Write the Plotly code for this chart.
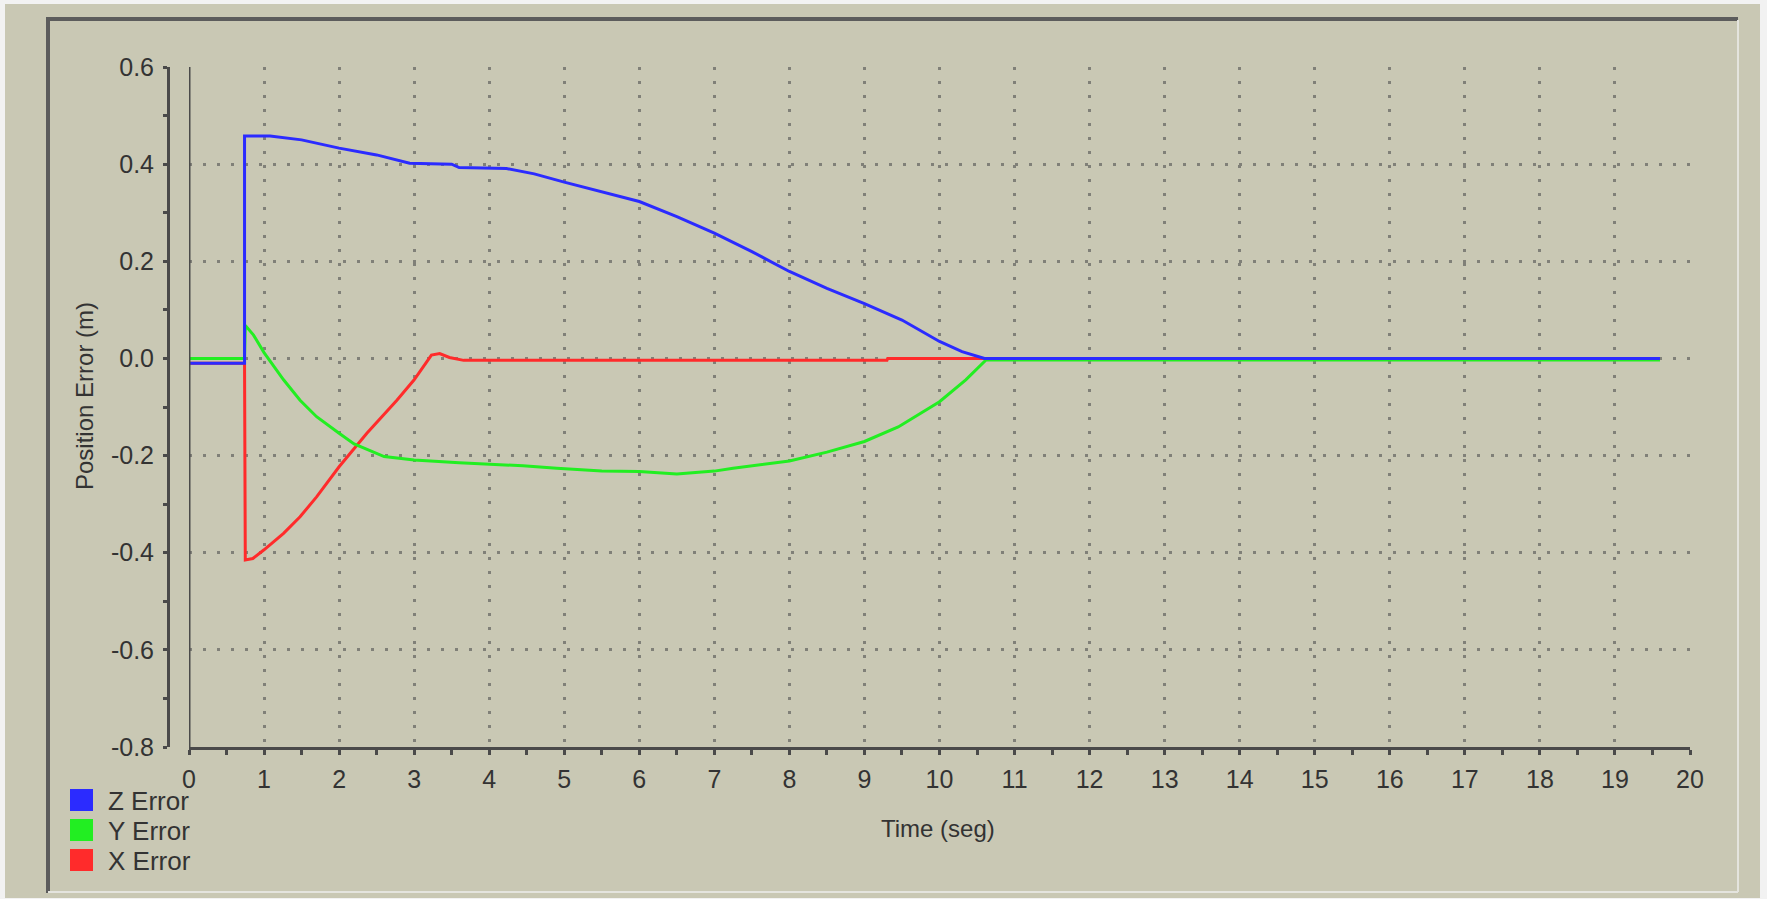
import plotly.graph_objects as go

W, H = 1767, 899

# ---------------- data ----------------
series_names = ["Z Error", "Y Error", "X Error"]
series_colors = ["#2b2bff", "#22ee22", "#ff2b2b"]

z_time = [0, 0.74, 0.74, 1.08, 1.5, 2.0, 2.5, 2.94, 3.5, 3.6, 4.23, 4.6, 5.0, 5.5,
          6.0, 6.5, 7.0, 7.5, 8.0, 8.5, 9.0, 9.5, 10.0, 10.3, 10.6, 19.6]
z_err = [-0.01, -0.01, 0.458, 0.458, 0.45, 0.433, 0.419, 0.402, 0.400, 0.393, 0.391,
         0.380, 0.363, 0.343, 0.323, 0.292, 0.258, 0.220, 0.179, 0.144, 0.113, 0.079,
         0.035, 0.014, 0.0, 0.0]

y_time = [0, 0.74, 0.75, 0.86, 1.0, 1.26, 1.48, 1.7, 2.0, 2.2, 2.6, 3.0, 3.6, 4.45,
          4.9, 5.5, 6.0, 6.5, 7.0, 7.25, 8.0, 8.5, 9.0, 9.45, 10.0, 10.35, 10.62, 19.6]
y_err = [0.0, 0.0, 0.068, 0.048, 0.012, -0.044, -0.086, -0.12, -0.154, -0.176, -0.202,
         -0.209, -0.215, -0.221, -0.226, -0.232, -0.233, -0.238, -0.232, -0.226, -0.211,
         -0.193, -0.171, -0.141, -0.089, -0.044, -0.003, -0.003]

x_time = [0, 0.74, 0.75, 0.85, 1.0, 1.26, 1.48, 1.7, 2.0, 2.37, 2.77, 3.0, 3.23, 3.34,
          3.47, 3.66, 9.3, 9.31, 10.6, 19.6]
x_err = [-0.01, -0.01, -0.415, -0.412, -0.394, -0.36, -0.326, -0.285, -0.223, -0.154,
         -0.086, -0.044, 0.007, 0.010, 0.002, -0.004, -0.004, 0.0, 0.0, 0.0]

x_ticks = list(range(0, 21))
y_tickvals = [0.6, 0.4, 0.2, 0.0, -0.2, -0.4, -0.6, -0.8]
y_ticktext = ["0.6", "0.4", "0.2", "0.0", "-0.2", "-0.4", "-0.6", "-0.8"]

x_title = "Time (seg)"
y_title = "Position Error (m)"

# ---------------- layout helpers ----------------
def fx(px):
    return px / W

def fy(py):
    return 1 - py / H

BG = "#c9c8b4"
AXIS = "#4a4a4a"
GRID = "#808078"
TXT = "#333333"
FONT = "Liberation Sans, Arial, sans-serif"

plot_l, plot_r, plot_t, plot_b = 189, 1690, 67, 747

fig = go.Figure()

# draw X first, then Y, then Z on top
data = {"Z Error": (z_time, z_err), "Y Error": (y_time, y_err), "X Error": (x_time, x_err)}
for name in reversed(series_names):
    t, v = data[name]
    col = series_colors[series_names.index(name)]
    fig.add_trace(go.Scatter(x=t, y=v, mode="lines", name=name,
                             line=dict(color=col, width=3), showlegend=False))

shapes = []
# outer beige panel on white
shapes.append(dict(type="rect", xref="paper", yref="paper", x0=fx(5), x1=fx(1760),
                   y0=fy(898), y1=fy(4), fillcolor=BG, line=dict(width=0), layer="below"))
# sunken frame
shapes.append(dict(type="line", xref="paper", yref="paper", x0=fx(48), x1=fx(1738),
                   y0=fy(19), y1=fy(19), line=dict(color="#5c5c5c", width=4)))
shapes.append(dict(type="line", xref="paper", yref="paper", x0=fx(48), x1=fx(48),
                   y0=fy(17), y1=fy(893), line=dict(color="#5c5c5c", width=4)))
shapes.append(dict(type="line", xref="paper", yref="paper", x0=fx(1738), x1=fx(1738),
                   y0=fy(20), y1=fy(892), line=dict(color="#e4e4de", width=2)))
shapes.append(dict(type="line", xref="paper", yref="paper", x0=fx(48), x1=fx(1738),
                   y0=fy(892), y1=fy(892), line=dict(color="#e4e4de", width=2)))
# left border of plotting area at t = 0
shapes.append(dict(type="line", xref="x", yref="y", x0=0, x1=0, y0=-0.8, y1=0.6,
                   line=dict(color=AXIS, width=3)))

annotations = []
# legend (manual, square swatches)
leg_y = [800, 830, 860]
for i, name in enumerate(series_names):
    cy = leg_y[i]
    shapes.append(dict(type="rect", xref="paper", yref="paper", x0=fx(70), x1=fx(93),
                       y0=fy(cy + 11), y1=fy(cy - 11), fillcolor=series_colors[i],
                       line=dict(width=0)))
    annotations.append(dict(text=name, xref="paper", yref="paper", x=fx(106), y=fy(cy + 1),
                            xanchor="left", yanchor="middle", showarrow=False,
                            font=dict(family=FONT, size=26, color=TXT)))

annotations.append(dict(text=x_title, xref="paper", yref="paper", x=fx(938), y=fy(828),
                        xanchor="center", yanchor="middle", showarrow=False,
                        font=dict(family=FONT, size=24, color=TXT)))
annotations.append(dict(text=y_title, xref="paper", yref="paper", x=fx(84), y=fy(396),
                        xanchor="center", yanchor="middle", showarrow=False, textangle=-90,
                        font=dict(family=FONT, size=24, color=TXT)))

fig.update_layout(
    width=W, height=H,
    margin=dict(l=0, r=0, t=0, b=0, autoexpand=False),
    paper_bgcolor="#f2f2f2",
    plot_bgcolor=BG,
    showlegend=False,
    shapes=shapes,
    annotations=annotations,
    xaxis=dict(
        domain=[fx(plot_l), fx(plot_r)], range=[0, 20],
        tickvals=x_ticks, ticktext=[str(v) for v in x_ticks],
        showline=True, linecolor=AXIS, linewidth=3,
        ticks="outside", ticklen=5, tickwidth=3, tickcolor=AXIS,
        minor=dict(dtick=0.5, tick0=0, ticks="outside", ticklen=5, tickwidth=3,
                   tickcolor=AXIS, showgrid=False),
        showgrid=True, gridcolor=GRID, gridwidth=3, griddash="3px,11px",
        zeroline=False, ticklabelstandoff=3,
        tickfont=dict(family=FONT, size=25, color=TXT),
        fixedrange=True,
    ),
    yaxis=dict(
        domain=[fy(plot_b), fy(plot_t)], range=[-0.8, 0.6],
        anchor="free", position=fx(168),
        tickvals=y_tickvals, ticktext=y_ticktext,
        showline=True, linecolor=AXIS, linewidth=3,
        ticks="outside", ticklen=4, tickwidth=3, tickcolor=AXIS,
        minor=dict(dtick=0.1, tick0=-0.8, ticks="outside", ticklen=4, tickwidth=3,
                   tickcolor=AXIS, showgrid=False),
        showgrid=True, gridcolor=GRID, gridwidth=3, griddash="3px,11px",
        zeroline=False, ticklabelstandoff=4,
        tickfont=dict(family=FONT, size=25, color=TXT),
        fixedrange=True,
    ),
)

fig.write_html(
    "out.html",
    config={"displayModeBar": False},
    post_script="document.body.style.margin='0';document.body.style.overflow='hidden';",
)
